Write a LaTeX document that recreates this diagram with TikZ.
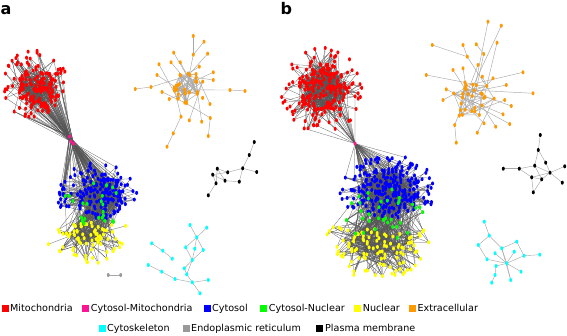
\documentclass[tikz,border=0pt]{standalone}
\usepackage{fontspec}
\setmainfont{DejaVu Sans}
\definecolor{cMito}{HTML}{FF0000}
\definecolor{cCM}{HTML}{FF1493}
\definecolor{cCyto}{HTML}{0000FF}
\definecolor{cCN}{HTML}{00FF00}
\definecolor{cNuc}{HTML}{FFFF00}
\definecolor{cExt}{HTML}{FF9900}
\definecolor{cSkel}{HTML}{00FFFF}
\definecolor{cER}{HTML}{999999}
\definecolor{cPM}{HTML}{000000}
\definecolor{dedgec}{HTML}{555555}
\definecolor{sedgec}{HTML}{A8A8A8}
\tikzset{
  dedge/.style={draw=dedgec,line width=0.25pt},
  sedge/.style={draw=sedgec,line width=0.45pt},
  legsq/.style={minimum size=7pt,inner sep=0pt,anchor=south west},
  legtx/.style={font=\fontsize{9.6}{10}\selectfont,inner sep=0pt,anchor=base west},
  panlab/.style={font=\bfseries\fontsize{16}{16}\selectfont,inner sep=0pt,anchor=base west}
}
% cluster of named coordinates: prefix, count, cx, cy, rx, ry, angle0, angle1, power
\newcommand\mkclus[9]{%
  \foreach \i in {1,...,#2}{%
    \pgfmathsetmacro\ang{#7+(#8-#7)*rnd}%
    \pgfmathsetmacro\rr{pow(0.02+0.98*rnd,#9)}%
    \coordinate (#1\i) at ({#3+#5*\rr*cos(\ang)},{#4+#6*\rr*sin(\ang)});%
  }}
% random edges between two named sets
\newcommand\mkedges[6]{%
  \foreach \k in {1,...,#5}{%
    \pgfmathtruncatemacro\ea{random(1,#2)}%
    \pgfmathtruncatemacro\eb{random(1,#4)}%
    \draw[#6] (#1\ea) -- (#3\eb);%
  }}
\newcommand\mknodes[3]{%
  \foreach \i in {1,...,#2}{\fill[#3] (#1\i) ellipse [x radius=1.5,y radius=2.0];}}
% outlier set: prefix, core prefix, core count, list x/y/parent
\newcommand\mkout[4]{%
  \foreach \x/\y/\p [count=\n] in {#4}{\coordinate (#1\n) at (\x,\y);}%
  \foreach \x/\y/\p [count=\n] in {#4}{%
    \ifnum\p=0
      \pgfmathtruncatemacro\eb{random(1,#3)}%
      \draw[sedge] (#1\n) -- (#2\eb);%
    \else
      \draw[sedge] (#1\n) -- (#1\p);%
    \fi}%
  \foreach \x/\y/\p [count=\n] in {#4}{\fill[cExt] (#1\n) ellipse [x radius=1.5,y radius=2.0];}}
\begin{document}
\begin{tikzpicture}[x=1pt,y=-1pt]
\useasboundingbox (0,0) rectangle (567,335);
\pgfmathsetseed{4242}
% ---------------- panel a ----------------
\node[panlab] (la) at (0.5,14) {a};
\mkclus{RAc}{110}{37}{88}{20}{21}{0}{360}{0.6}
\mkclus{RAs}{80}{35}{85}{33}{35}{0}{360}{0.4}
\coordinate (MA1) at (69.5,136.5);
\coordinate (MA2) at (71,141.5);
\coordinate (MA3) at (73.5,143.5);
\mkclus{BAc}{120}{100}{196}{25}{23}{0}{360}{0.6}
\mkclus{BAs}{70}{97}{195}{40}{33}{150}{390}{0.4}
\mkclus{GA}{24}{96}{202}{32}{24}{0}{360}{0.5}
\mkclus{YAc}{35}{86}{232}{22}{12}{0}{360}{0.5}
\mkclus{YAs}{40}{86}{228}{42}{37}{-10}{190}{0.4}
% edges a
\mkedges{RAc}{110}{RAc}{110}{220}{dedge}
\mkedges{RAs}{80}{RAc}{110}{120}{dedge}
\mkedges{RAs}{80}{MA}{3}{50}{dedge}
\mkedges{RAc}{110}{MA}{3}{40}{dedge}
\mkedges{MA}{3}{BAc}{120}{60}{dedge}
\mkedges{MA}{3}{BAs}{70}{40}{dedge}
\mkedges{BAc}{120}{BAc}{120}{260}{dedge}
\mkedges{BAs}{70}{BAc}{120}{130}{dedge}
\mkedges{GA}{24}{BAc}{120}{50}{dedge}
\mkedges{YAc}{35}{YAc}{35}{90}{dedge}
\mkedges{YAs}{40}{YAc}{35}{80}{dedge}
\mkedges{YAc}{35}{BAc}{120}{80}{dedge}
\mkedges{GA}{24}{YAc}{35}{30}{dedge}
\mkedges{YAs}{40}{BAc}{120}{35}{dedge}
% nodes a
\mknodes{RAs}{80}{cMito}
\mknodes{RAc}{110}{cMito}
\mknodes{YAs}{40}{cNuc}
\mknodes{YAc}{35}{cNuc}
\mknodes{BAs}{70}{cCyto}
\mknodes{BAc}{120}{cCyto}
\mknodes{GA}{24}{cCN}
\mknodes{MA}{3}{cCM}
% orange a
\mkclus{OAc}{30}{190}{88}{18}{16}{0}{360}{0.55}
\mkedges{OAc}{30}{OAc}{30}{60}{sedge}
\mkout{OAo}{OAc}{30}{193.3/36/2,193.3/54.7/0,204/41.7/2,173.7/52.7/0,207.7/53.7/0,159/64.3/0,171/62.3/0,180.3/62.3/0,199.3/66.7/0,135.3/89/11,151/87/0,245/91/13,230/90/0,213.3/72.3/0,213.3/80/0,210/104/0,210.3/118/0,208.3/136/17,189.3/120.3/0,181/116.7/0,173.3/133.3/20,167/146.7/21,201.7/121.7/0,169.3/99/0,157/75/0,162/92/0}
\mknodes{OAc}{30}{cExt}
% black a
\coordinate (KA1) at (254.3,142);
\coordinate (KA2) at (249.3,155);
\coordinate (KA3) at (242.7,168.3);
\coordinate (KA4) at (256.7,172);
\coordinate (KA5) at (227.7,172.3);
\coordinate (KA6) at (217.3,168.7);
\coordinate (KA7) at (212.7,174.7);
\coordinate (KA8) at (225,180.7);
\coordinate (KA9) at (239.3,181.7);
\coordinate (KA10) at (216,183.3);
\coordinate (KA11) at (208.3,195.3);
\foreach \a/\b in {1/2,2/3,3/4,3/5,3/9,9/8,5/6,5/7,6/8,7/8,6/10,10/11,7/10}
  \draw[sedge] (KA\a) -- (KA\b);
\mknodes{KA}{11}{cPM}
% cyan a
\coordinate (SA1) at (190,225);
\coordinate (SA2) at (206.7,227.7);
\coordinate (SA3) at (196.7,237.3);
\coordinate (SA4) at (185.7,247.3);
\coordinate (SA5) at (194.7,248.7);
\coordinate (SA6) at (203.3,250);
\coordinate (SA7) at (192.3,260);
\coordinate (SA8) at (184.3,268.3);
\coordinate (SA9) at (186.7,274.3);
\coordinate (SA10) at (192.3,282.3);
\coordinate (SA11) at (208.3,280);
\coordinate (SA12) at (200,293.3);
\coordinate (SA13) at (151.7,243.3);
\coordinate (SA14) at (162.7,250.7);
\coordinate (SA15) at (172.3,258.7);
\coordinate (SA16) at (148.3,265);
\coordinate (SA17) at (161.7,271.7);
\coordinate (SA18) at (175,279);
\foreach \a/\b in {1/3,2/3,3/4,3/5,3/6,4/7,6/7,5/7,7/8,7/9,8/9,9/10,10/11,10/12,18/10,16/17,17/18,13/14,14/15}
  \draw[sedge] (SA\a) -- (SA\b);
\mknodes{SA}{18}{cSkel}
% ER a
\coordinate (EA1) at (108.3,275);
\coordinate (EA2) at (120.7,275);
\draw[sedge] (EA1) -- (EA2);
\mknodes{EA}{2}{cER}
% ---------------- panel b ----------------
\node[panlab] (lb) at (280.5,14) {b};
\mkclus{RBc}{150}{322}{88}{25}{25}{0}{360}{0.6}
\mkclus{RBs}{90}{322}{90}{41}{43}{0}{360}{0.4}
\coordinate (MB1) at (355,143.5);
\mkclus{BBc}{170}{390}{193}{31}{27}{0}{360}{0.6}
\mkclus{BBs}{90}{388}{192}{48}{38}{150}{390}{0.4}
\mkclus{GB}{34}{382}{215}{42}{28}{0}{360}{0.5}
\mkclus{YBc}{50}{376}{244}{36}{15}{0}{360}{0.5}
\mkclus{YBs}{60}{378}{238}{52}{42}{-20}{200}{0.4}
\mkedges{RBc}{150}{RBc}{150}{350}{dedge}
\mkedges{RBs}{90}{RBc}{150}{180}{dedge}
\mkedges{RBc}{150}{MB}{1}{12}{dedge}
\mkedges{RBs}{90}{MB}{1}{8}{dedge}
\mkedges{MB}{1}{BBc}{170}{30}{dedge}
\mkedges{MB}{1}{BBs}{90}{15}{dedge}
\mkedges{BBc}{170}{BBc}{170}{380}{dedge}
\mkedges{BBs}{90}{BBc}{170}{170}{dedge}
\mkedges{GB}{34}{BBc}{170}{70}{dedge}
\mkedges{YBc}{50}{YBc}{50}{120}{dedge}
\mkedges{YBs}{60}{YBc}{50}{110}{dedge}
\mkedges{YBc}{50}{BBc}{170}{110}{dedge}
\mkedges{GB}{34}{YBc}{50}{40}{dedge}
\mkedges{YBs}{60}{BBc}{170}{50}{dedge}
\mkedges{YBs}{60}{GB}{34}{30}{dedge}
\mknodes{RBs}{90}{cMito}
\mknodes{RBc}{150}{cMito}
\mknodes{YBs}{60}{cNuc}
\mknodes{YBc}{50}{cNuc}
\mknodes{BBs}{90}{cCyto}
\mknodes{BBc}{170}{cCyto}
\mknodes{GB}{34}{cCN}
\mknodes{MB}{1}{cCM}
% orange b
\mkclus{OBc}{30}{472}{100}{23}{19}{0}{360}{0.55}
\mkedges{OBc}{30}{OBc}{30}{45}{sedge}
\mkout{OBo}{OBc}{30}{488/21.7/0,501.3/25.7/0,432.3/45/7,463/45/7,476.3/44.3/8,497/42.7/0,467.3/56.7/0,483.7/54/0,478/65/0,453/70/0,463/68.3/0,426.3/75/0,523/72.3/0,482.3/76.7/0,493/78.3/0,506.3/85/0,533/93.3/0,446.3/89.3/0,443/100/0,504.7/100/0,511.3/106/0,454.7/125/0,456.3/142.7/22,477.3/132.7/0,495.7/126.7/0,509.7/124/0,484/123.3/0,503/114.3/0}
\mknodes{OBc}{30}{cExt}
% black b
\coordinate (KB1) at (540.3,135);
\coordinate (KB2) at (538.3,150);
\coordinate (KB3) at (545.7,162.7);
\coordinate (KB4) at (534.7,165.7);
\coordinate (KB5) at (519.3,168.7);
\coordinate (KB6) at (503.3,168.7);
\coordinate (KB7) at (550,172.7);
\coordinate (KB8) at (564.7,166.3);
\coordinate (KB9) at (531.7,177.3);
\coordinate (KB10) at (541.7,179.3);
\coordinate (KB11) at (562.3,182.7);
\coordinate (KB12) at (533.3,192.3);
\foreach \a/\b in {1/2,2/4,2/3,3/7,4/5,5/6,4/7,4/10,9/10,9/7,7/8,7/11,5/9,9/12,12/10,7/10}
  \draw[sedge] (KB\a) -- (KB\b);
\mknodes{KB}{12}{cPM}
% cyan b
\coordinate (SB1) at (484.3,221.7);
\coordinate (SB2) at (489.3,235.7);
\coordinate (SB3) at (478.3,245);
\coordinate (SB4) at (501.7,248.3);
\coordinate (SB5) at (516.7,241.7);
\coordinate (SB6) at (495,253.3);
\coordinate (SB7) at (514.3,251.7);
\coordinate (SB8) at (524,255.7);
\coordinate (SB9) at (539.7,254.7);
\coordinate (SB10) at (487,259.3);
\coordinate (SB11) at (506.7,263.3);
\coordinate (SB12) at (496,266);
\coordinate (SB13) at (521,271.7);
\coordinate (SB14) at (495,275);
\coordinate (SB15) at (510.7,280);
\coordinate (SB16) at (491.7,282.7);
\foreach \a/\b in {1/2,2/3,2/4,3/10,10/11,4/5,5/8,8/9,8/11,4/11,6/11,7/11,11/13,11/15,11/12,12/14,14/16,4/15}
  \draw[sedge] (SB\a) -- (SB\b);
\mknodes{SB}{16}{cSkel}
% ---------------- legend ----------------
\node[legsq,fill=cMito] (q1) at (1.7,312) {};
\node[legtx] (t1) at (10,311.5) {Mitochondria};
\node[legsq,fill=cCM] (q2) at (82,312) {};
\node[legtx] (t2) at (90.7,311.5) {Cytosol-Mitochondria};
\node[legsq,fill=cCyto] (q3) at (203.3,312) {};
\node[legtx] (t3) at (212,311.5) {Cytosol};
\node[legsq,fill=cCN] (q4) at (260,312) {};
\node[legtx] (t4) at (268.7,311.5) {Cytosol-Nuclear};
\node[legsq,fill=cNuc] (q5) at (354,312) {};
\node[legtx] (t5) at (362.7,311.5) {Nuclear};
\node[legsq,fill=cExt] (q6) at (409,312) {};
\node[legtx] (t6) at (417.3,311.5) {Extracellular};
\node[legsq,fill=cSkel] (q7) at (98.3,332) {};
\node[legtx] (t7) at (107,331.5) {Cytoskeleton};
\node[legsq,fill=cER] (q8) at (182.7,332) {};
\node[legtx] (t8) at (191,331.5) {Endoplasmic reticulum};
\node[legsq,fill=cPM] (q9) at (316,332) {};
\node[legtx] (t9) at (325,331.5) {Plasma membrane};
\end{tikzpicture}
\end{document}
